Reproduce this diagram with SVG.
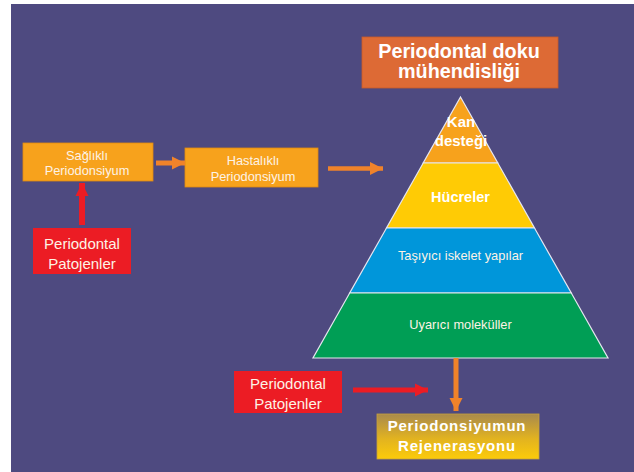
<svg xmlns="http://www.w3.org/2000/svg" width="634" height="472" viewBox="0 0 634 472">
<defs>
<style>
.t{font-family:"Liberation Sans",Arial,sans-serif;fill:#fdf3e6;text-anchor:middle}
.b{font-weight:bold;fill:#ffffff}
.s{font-size:12.8px}
.band{stroke:#e6e6f0;stroke-width:1.2}
</style>
<linearGradient id="gold" x1="0" y1="0" x2="0" y2="1">
<stop offset="0" stop-color="#a98a4c"/>
<stop offset="0.55" stop-color="#e2b320"/>
<stop offset="1" stop-color="#fccb0a"/>
</linearGradient>
<marker id="ho" markerUnits="userSpaceOnUse" markerWidth="14" markerHeight="14" refX="13" refY="7" orient="auto">
<path d="M0,0.5 L13,7 L0,13.5 Z" fill="#f0832a"/>
</marker>
<marker id="hr" markerUnits="userSpaceOnUse" markerWidth="14" markerHeight="14" refX="13" refY="7" orient="auto">
<path d="M0,0.5 L13,7 L0,13.5 Z" fill="#ec1c24"/>
</marker>
</defs>
<rect x="0" y="0" width="634" height="472" fill="#ffffff"/>
<rect x="11" y="4" width="623" height="468" fill="#4e4a80"/>

<g id="title">
<rect x="362" y="37" width="196" height="51" fill="#dd6a35" stroke="#c85a2a" stroke-width="0.8"/>
<text class="t b" x="459" y="57.5" font-size="19.8">Periodontal doku</text>
<text class="t b" x="459" y="78" font-size="19.8">mühendisliği</text>
</g>

<g id="saglikli">
<rect x="23" y="143" width="130" height="38" fill="#f7a21c" stroke="#e08a10" stroke-width="0.8"/>
<text class="t s" x="87" y="159.5">Sağlıklı</text>
<text class="t s" x="87" y="175">Periodonsiyum</text>
</g>

<g id="hastalikli">
<rect x="185" y="148" width="133" height="39" fill="#f7a21c" stroke="#e08a10" stroke-width="0.8"/>
<text class="t s" x="253" y="164.5">Hastalıklı</text>
<text class="t s" x="253" y="180.5">Periodonsiyum</text>
</g>

<g id="patojen1">
<rect x="33" y="228" width="98" height="46" fill="#ec1c24"/>
<text class="t" x="82" y="248.5" font-size="15">Periodontal</text>
<text class="t" x="82" y="268.5" font-size="15">Patojenler</text>
</g>

<g id="patojen2">
<rect x="234" y="371" width="108" height="42" fill="#ec1c24"/>
<text class="t" x="288" y="388.5" font-size="15">Periodontal</text>
<text class="t" x="288" y="408.5" font-size="15">Patojenler</text>
</g>

<g id="pyramid">
<polygon class="band" points="460.5,97 497.8,163 423.2,163" fill="#f7a21c"/>
<polygon class="band" points="423.2,163 497.8,163 534.5,228 386.5,228" fill="#ffcb05"/>
<polygon class="band" points="386.5,228 534.5,228 571.3,293 349.7,293" fill="#0096da"/>
<polygon class="band" points="349.7,293 571.3,293 608,358 313,358" fill="#009e55"/>
<text class="t b" x="461" y="127" font-size="15">Kan</text>
<text class="t b" x="461" y="145.5" font-size="15">desteği</text>
<text class="t b" x="460.5" y="201.5" font-size="14.5">Hücreler</text>
<text class="t s" x="460.5" y="260">Taşıyıcı iskelet yapılar</text>
<text class="t s" x="460.5" y="328.5">Uyarıcı moleküller</text>
</g>

<g id="rejenerasyon">
<rect x="377" y="414" width="162" height="45" fill="url(#gold)" stroke="#c9a23a" stroke-width="0.8"/>
<text class="t b" x="457" y="430.5" font-size="15" letter-spacing="0.8">Periodonsiyumun</text>
<text class="t b" x="457" y="451" font-size="15" letter-spacing="0.8">Rejenerasyonu</text>
</g>

<g id="connectors" fill="none">
<line x1="156" y1="163" x2="185" y2="163" stroke="#f0832a" stroke-width="5" marker-end="url(#ho)"/>
<line x1="328" y1="168.5" x2="383" y2="168.5" stroke="#f0832a" stroke-width="4.5" marker-end="url(#ho)"/>
<line x1="82" y1="225" x2="82" y2="183" stroke="#ec1c24" stroke-width="6" marker-end="url(#hr)"/>
<line x1="456" y1="358" x2="456" y2="411" stroke="#f0832a" stroke-width="5" marker-end="url(#ho)"/>
<line x1="353" y1="390" x2="428" y2="390" stroke="#ec1c24" stroke-width="5" marker-end="url(#hr)"/>
</g>
</svg>
